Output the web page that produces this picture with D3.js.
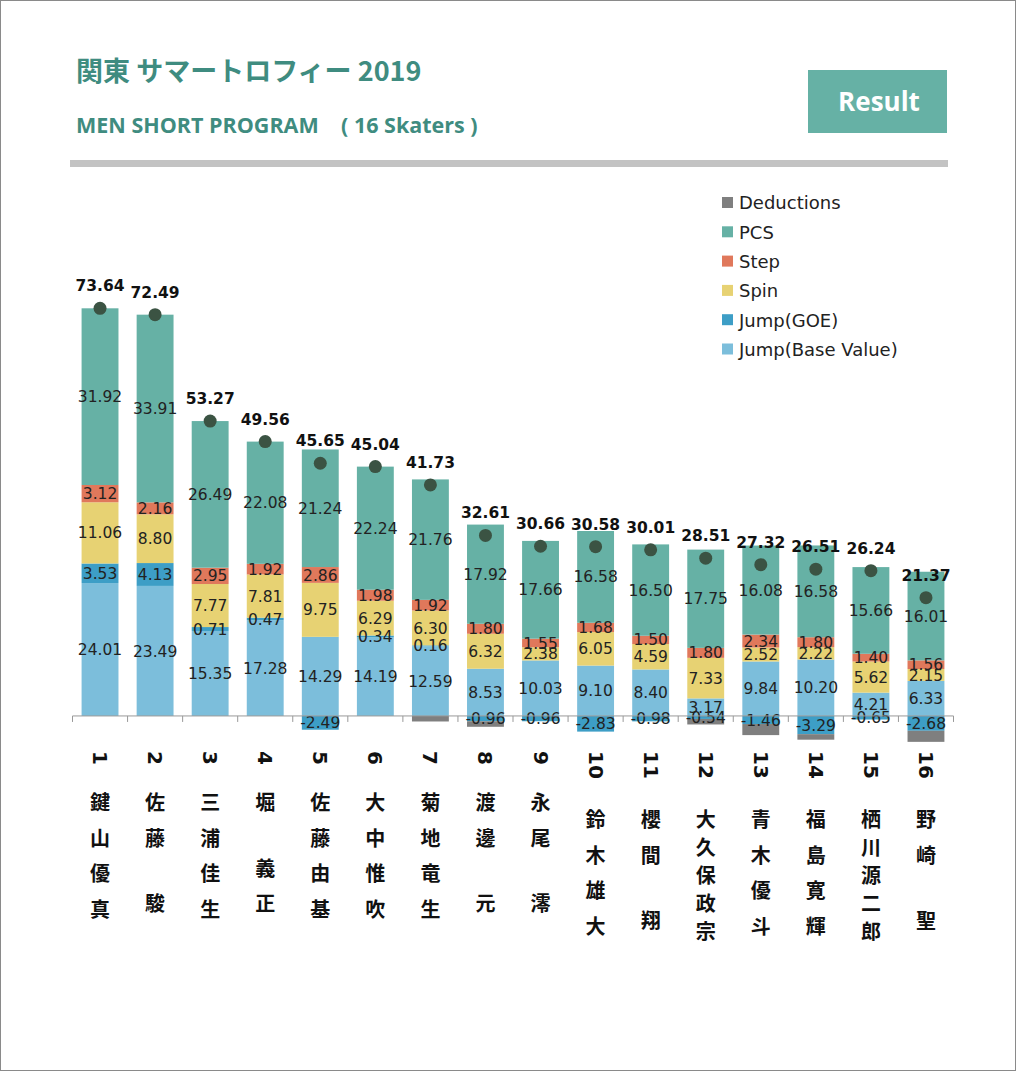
<!DOCTYPE html>
<html>
<head>
<meta charset="utf-8">
<title>Kanto Summer Trophy 2019</title>
<script src="https://d3js.org/d3.v7.min.js"></script>
<style>
    body { margin: 0; background: #fff; }
</style>
</head>
<body>
<div id="chart"></div>
<script>
    // skaters in rank order
    var ranks = ["1", "2", "3", "4", "5", "6", "7", "8", "9", "10", "11", "12", "13", "14", "15", "16"];
    var names = ["鍵山優真", "佐藤 駿", "三浦佳生", "堀 義正", "佐藤由基", "大中惟吹", "菊地竜生", "渡邊 元",
        "永尾 澪", "鈴木雄大", "櫻間 翔", "大久保政宗", "青木優斗", "福島寛輝", "栖川源二郎", "野崎 聖"];

    // score components
    var jumpBase = [24.01, 23.49, 15.35, 17.28, 14.29, 14.19, 12.59, 8.53, 10.03, 9.10, 8.40, 3.17, 9.84, 10.20, 4.21, 6.33];
    var jumpGoe = [3.53, 4.13, 0.71, 0.47, -2.49, 0.34, 0.16, -0.96, -0.96, -2.83, -0.98, -0.54, -1.46, -3.29, -0.65, -2.68];
    var spin = [11.06, 8.80, 7.77, 7.81, 9.75, 6.29, 6.30, 6.32, 2.38, 6.05, 4.59, 7.33, 2.52, 2.22, 5.62, 2.15];
    var step = [3.12, 2.16, 2.95, 1.92, 2.86, 1.98, 1.92, 1.80, 1.55, 1.68, 1.50, 1.80, 2.34, 1.80, 1.40, 1.56];
    var pcs = [31.92, 33.91, 26.49, 22.08, 21.24, 22.24, 21.76, 17.92, 17.66, 16.58, 16.50, 17.75, 16.08, 16.58, 15.66, 16.01];
    var deductions = [0, 0, 0, 0, 0, 0, -1, -1, 0, 0, 0, -1, -2, -1, 0, -2];
    var totals = [73.64, 72.49, 53.27, 49.56, 45.65, 45.04, 41.73, 32.61, 30.66, 30.58, 30.01, 28.51, 27.32, 26.51, 26.24, 21.37];

    var keys = ["base", "goe", "spin", "step", "pcs", "ded"];
    var labels = {base: "Jump(Base Value)", goe: "Jump(GOE)", spin: "Spin", step: "Step", pcs: "PCS", ded: "Deductions"};
    var colors = {base: "#7cbedb", goe: "#3d9ec6", spin: "#e7d273", step: "#e0785b", pcs: "#66b1a5", ded: "#7f7f7f"};

    var width = 1019, height = 1074;
    var teal = "#3f8c80";

    var svg = d3.select("#chart").append("svg")
        .attr("width", width)
        .attr("height", height)
        .style("font-family", "'DejaVu Sans', sans-serif");

    svg.append("rect").attr("x", 0.5).attr("y", 0.5).attr("width", 1015).attr("height", 1070)
        .attr("fill", "#fff").attr("stroke", "#8a8a8a");

    // header
    svg.append("text").attr("x", 76).attr("y", 81)
        .style("font-family", "'Noto Sans CJK JP', sans-serif")
        .style("font-weight", "bold").style("font-size", "27px")
        .attr("fill", teal)
        .text("関東 サマートロフィー 2019");

    svg.append("text").attr("x", 76).attr("y", 133)
        .style("font-family", "'Open Sans', sans-serif")
        .style("font-weight", "bold").style("font-size", "21.5px")
        .attr("fill", teal)
        .attr("xml:space", "preserve")
        .text("MEN SHORT PROGRAM    ( 16 Skaters )");

    svg.append("rect").attr("x", 808).attr("y", 70).attr("width", 139).attr("height", 63).attr("fill", "#66b1a5");
    svg.append("text").attr("x", 879).attr("y", 102).attr("dy", "0.35em")
        .attr("text-anchor", "middle")
        .style("font-family", "'Open Sans', sans-serif")
        .style("font-weight", "bold").style("font-size", "26px")
        .attr("fill", "#fff")
        .text("Result");

    svg.append("rect").attr("x", 70).attr("y", 160).attr("width", 878).attr("height", 7).attr("fill", "#c3c3c3");

    // scales
    var x = d3.scaleBand().domain(ranks).range([72.5, 953.5]).paddingInner(0.33).paddingOuter(0.165);
    var y = d3.scaleLinear().domain([-10, 80]).range([771.3, 273.1]);

    var rows = ranks.map(function(r, i) {
        return {rank: r, base: jumpBase[i], goe: jumpGoe[i], spin: spin[i], step: step[i], pcs: pcs[i], ded: deductions[i], total: totals[i]};
    });

    var series = d3.stack().keys(keys).offset(d3.stackOffsetDiverging)(rows);

    var g = svg.append("g");
    g.selectAll("g.series")
        .data(series)
        .enter().append("g")
        .attr("class", "series")
        .attr("fill", function(s) { return colors[s.key]; })
        .selectAll("rect")
        .data(function(s) { return s; })
        .enter().append("rect")
        .attr("x", function(d) { return x(d.data.rank); })
        .attr("width", x.bandwidth())
        .attr("y", function(d) { return y(Math.max(d[0], d[1])); })
        .attr("height", function(d) { return Math.abs(y(d[0]) - y(d[1])); });

    // x axis
    var ticks = d3.range(ranks.length + 1);
    svg.append("line").attr("x1", 72.5).attr("x2", 953.5).attr("y1", y(0)).attr("y2", y(0))
        .attr("stroke", "#999").attr("stroke-width", 1);
    svg.selectAll("line.tick").data(ticks).enter().append("line")
        .attr("class", "tick")
        .attr("x1", function(i) { return 72.5 + i * x.step(); })
        .attr("x2", function(i) { return 72.5 + i * x.step(); })
        .attr("y1", y(0)).attr("y2", y(0) + 6)
        .attr("stroke", "#999");

    // segment labels
    var fmt = function(v) { return v.toFixed(2); };
    series.filter(function(s) { return s.key !== "ded"; }).forEach(function(s) {
        g.selectAll("text.l-" + s.key)
            .data(s.filter(function(d) { return d.data[s.key] !== 0; }))
            .enter().append("text")
            .attr("class", "l-" + s.key)
            .attr("x", function(d) { return x(d.data.rank) + x.bandwidth() / 2; })
            .attr("y", function(d) { return (y(d[0]) + y(d[1])) / 2; })
            .attr("dy", "0.36em")
            .attr("text-anchor", "middle")
            .style("font-size", "15.5px")
            .attr("fill", "#222")
            .text(function(d) { return fmt(d.data[s.key]); });
    });

    // totals
    g.selectAll("circle.total").data(rows).enter().append("circle")
        .attr("class", "total")
        .attr("cx", function(d) { return x(d.rank) + x.bandwidth() / 2; })
        .attr("cy", function(d) { return y(d.total); })
        .attr("r", 6.5)
        .attr("fill", "#3b5343");
    g.selectAll("text.total").data(rows).enter().append("text")
        .attr("class", "total")
        .attr("x", function(d) { return x(d.rank) + x.bandwidth() / 2; })
        .attr("y", function(d) { return y(d.total) - 17; })
        .attr("text-anchor", "middle")
        .style("font-size", "15.5px").style("font-weight", "bold")
        .attr("fill", "#111")
        .text(function(d) { return fmt(d.total); });

    // category labels: rotated rank + stacked name
    var cat = svg.selectAll("g.cat").data(rows).enter().append("g")
        .attr("class", "cat")
        .attr("transform", function(d) { return "translate(" + (x(d.rank) + x.bandwidth() / 2) + ",0)"; });

    cat.append("text")
        .attr("transform", "translate(0,751) rotate(90)")
        .attr("dominant-baseline", "central")
        .style("font-size", "20px").style("font-weight", "bold")
        .attr("fill", "#111")
        .text(function(d) { return d.rank; });

    cat.each(function(d, i) {
        var chars = Array.from(names[i]);
        var start = 786 + 17 * d.rank.length;
        var adv = chars.map(function(c) { return c === " " ? 30 : 35.5; });
        var total = d3.sum(adv.slice(0, -1));
        var k = Math.min(1, (932 - start) / total);
        var pos = start;
        var sel = d3.select(this);
        chars.forEach(function(c, j) {
            if (c !== " ") {
                sel.append("text")
                    .attr("y", pos).attr("dy", "0.36em")
                    .attr("text-anchor", "middle")
                    .style("font-family", "'Noto Sans CJK JP', sans-serif")
                    .style("font-size", "20px").style("font-weight", "bold")
                    .attr("fill", "#111")
                    .text(c);
            }
            pos += adv[j] * k;
        });
    });

    // legend
    var legendKeys = keys.slice().reverse();
    var lg = svg.selectAll("g.legend").data(legendKeys).enter().append("g")
        .attr("class", "legend")
        .attr("transform", function(k, i) { return "translate(722," + (203 + i * 29.3) + ")"; });
    lg.append("rect").attr("x", 0).attr("y", -6).attr("width", 11).attr("height", 11)
        .attr("fill", function(k) { return colors[k]; });
    lg.append("text").attr("x", 17).attr("dy", "0.36em")
        .style("font-size", "18px")
        .attr("fill", "#222")
        .text(function(k) { return labels[k]; });
</script>
</body>
</html>
